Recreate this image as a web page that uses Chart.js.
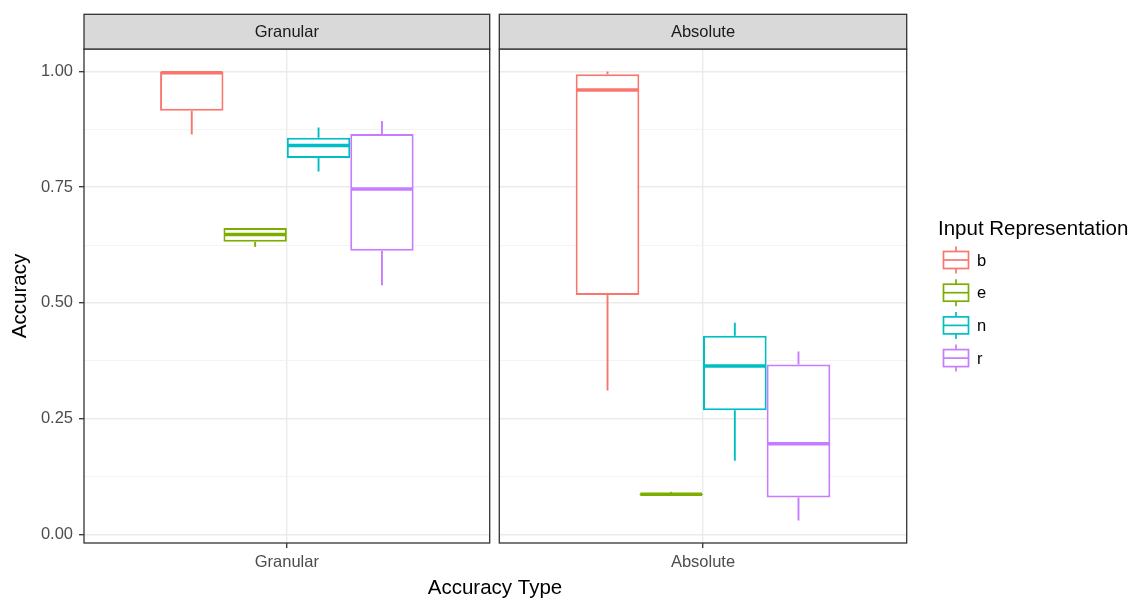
<!DOCTYPE html>
<html>
<head>
<meta charset="utf-8">
<script src="https://cdn.jsdelivr.net/npm/chart.js@4.4.0/dist/chart.umd.min.js"></script>
<style>
html, body { margin: 0; padding: 0; background: #fff; }
#wrap { position: relative; width: 1131px; height: 599px; }
#wrap canvas { position: absolute; left: 0; top: 0; }
</style>
</head>
<body>
<div id="wrap">
<canvas id="granular_chart" width="1131" height="599"></canvas>
<canvas id="absolute_chart" width="1131" height="599"></canvas>
</div>
<script>
const groups = ['b', 'e', 'n', 'r'];
const yTicks = [0, 0.125, 0.25, 0.375, 0.5, 0.625, 0.75, 0.875, 1];

// Granular panel
const granularMin = [0.864, 0.621, 0.784, 0.538];
const granularQ1 = [0.915, 0.632, 0.813, 0.613];
const granularMed = [0.997, 0.648, 0.840, 0.746];
const granularQ3 = [1.000, 0.662, 0.857, 0.865];
const granularMax = [1.000, 0.662, 0.879, 0.893];

// Absolute panel
const absoluteMin = [0.311, 0.085, 0.159, 0.030];
const absoluteQ1 = [0.517, 0.085, 0.268, 0.080];
const absoluteMed = [0.960, 0.087, 0.364, 0.196];
const absoluteQ3 = [0.994, 0.088, 0.429, 0.367];
const absoluteMax = [1.000, 0.092, 0.457, 0.395];

const colors = ['#F8766D', '#7CAE00', '#00BFC4', '#C77CFF'];
const FONT = "'Liberation Sans', Arial, sans-serif";
Chart.defaults.font.family = FONT;

const isMajor = v => Math.abs(v * 4 - Math.round(v * 4)) < 1e-6;

// whiskers + median on top of the floating bars
const boxParts = {
    id: 'boxParts',
    afterDatasetsDraw(chart, args, opts) {
        const ctx = chart.ctx;
        const y = chart.scales.y;
        chart.data.datasets.forEach((ds, i) => {
            const bar = chart.getDatasetMeta(i).data[0];
            const half = bar.width / 2;
            ctx.save();
            ctx.strokeStyle = ds.borderColor;
            ctx.lineWidth = 1.9;
            ctx.beginPath();
            ctx.moveTo(bar.x, y.getPixelForValue(opts.max[i]));
            ctx.lineTo(bar.x, y.getPixelForValue(ds.data[0][1]));
            ctx.moveTo(bar.x, y.getPixelForValue(ds.data[0][0]));
            ctx.lineTo(bar.x, y.getPixelForValue(opts.min[i]));
            ctx.stroke();
            ctx.lineWidth = 3.5;
            const m = y.getPixelForValue(opts.med[i]);
            ctx.beginPath();
            ctx.moveTo(bar.x - half + 1, m);
            ctx.lineTo(bar.x + half - 1, m);
            ctx.stroke();
            ctx.restore();
        });
    }
};

// panel border and facet strip
const panelFrame = {
    id: 'panelFrame',
    afterDraw(chart, args, opts) {
        const ctx = chart.ctx;
        const {left, right, top, bottom} = chart.chartArea;
        const stripTop = top - 34.7;
        ctx.save();
        ctx.strokeStyle = '#333333';
        ctx.lineWidth = 1.3;
        ctx.strokeRect(left, top, right - left, bottom - top);
        ctx.fillStyle = '#D9D9D9';
        ctx.fillRect(left, stripTop, right - left, top - stripTop);
        ctx.strokeRect(left, stripTop, right - left, top - stripTop);
        ctx.fillStyle = '#1A1A1A';
        ctx.font = '16.5px ' + FONT;
        ctx.textAlign = 'center';
        ctx.textBaseline = 'middle';
        ctx.fillText(opts.label, (left + right) / 2, (stripTop + top) / 2 + 1);
        ctx.restore();
    }
};

// shared x title
const xTitle = {
    id: 'xTitle',
    afterDraw(chart) {
        const ctx = chart.ctx;
        ctx.save();
        ctx.fillStyle = '#000';
        ctx.font = '20.5px ' + FONT;
        ctx.textAlign = 'center';
        ctx.textBaseline = 'middle';
        ctx.fillText('Accuracy Type', 495, 588);
        ctx.restore();
    }
};

// legend with boxplot keys
const boxLegend = {
    id: 'boxLegend',
    afterDraw(chart) {
        const ctx = chart.ctx;
        ctx.save();
        ctx.fillStyle = '#000';
        ctx.font = '20.5px ' + FONT;
        ctx.textBaseline = 'middle';
        ctx.fillText('Input Representation', 938, 229);
        groups.forEach((g, i) => {
            const cy = 260 + i * 32.7;
            const x0 = 943.5, x1 = 968.5, cx = (x0 + x1) / 2;
            ctx.strokeStyle = colors[i];
            ctx.lineWidth = 1.7;
            ctx.beginPath();
            ctx.moveTo(cx, cy - 13.5); ctx.lineTo(cx, cy - 8.5);
            ctx.moveTo(cx, cy + 8.5); ctx.lineTo(cx, cy + 13.5);
            ctx.stroke();
            ctx.strokeRect(x0, cy - 8.5, x1 - x0, 17);
            ctx.beginPath();
            ctx.moveTo(x0, cy); ctx.lineTo(x1, cy);
            ctx.stroke();
            ctx.fillStyle = '#000';
            ctx.font = '16.5px ' + FONT;
            ctx.fillText(g, 977, cy + 1);
        });
        ctx.restore();
    }
};

function makePanel(canvas, name, mins, q1s, meds, q3s, maxs, showY, padLeft, padRight, extra) {
    const datasets = groups.map((g, i) => ({
        label: g,
        data: [[q1s[i], q3s[i]]],
        backgroundColor: '#FFFFFF',
        borderColor: colors[i],
        borderWidth: 2,
        borderSkipped: false,
        categoryPercentage: 0.625,
        barPercentage: 1.0
    }));
    return new Chart(canvas, {
        type: 'bar',
        data: { labels: [name], datasets: datasets },
        options: {
            responsive: false,
            animation: false,
            layout: { padding: { left: padLeft, right: padRight, top: 49, bottom: 0 } },
            plugins: {
                legend: { display: false },
                tooltip: { enabled: false },
                boxParts: { min: mins, med: meds, max: maxs },
                panelFrame: { label: name }
            },
            scales: {
                x: {
                    offset: true,
                    border: { display: false },
                    grid: {
                        offset: false,
                        color: '#EBEBEB',
                        lineWidth: 1.4,
                        tickLength: 5,
                        tickColor: '#333333',
                        tickWidth: 1.3
                    },
                    ticks: {
                        color: '#4D4D4D',
                        font: { size: 16.5 },
                        padding: 5,
                        maxRotation: 0
                    },
                    afterFit: s => { s.height = 56; }
                },
                y: {
                    min: -0.0185,
                    max: 1.0485,
                    border: { display: false },
                    afterBuildTicks: s => { s.ticks = yTicks.map(v => ({ value: v })); },
                    afterFit: s => { s.width = showY ? 84 : 0; },
                    grid: {
                        color: ctx => isMajor(ctx.tick.value) ? '#EBEBEB' : '#F2F2F2',
                        lineWidth: ctx => isMajor(ctx.tick.value) ? 1.4 : 0.9,
                        drawTicks: showY,
                        tickLength: 5,
                        tickColor: ctx => isMajor(ctx.tick.value) ? '#333333' : 'rgba(0,0,0,0)',
                        tickWidth: 1.3
                    },
                    ticks: {
                        display: showY,
                        color: '#4D4D4D',
                        font: { size: 16.5 },
                        padding: 6,
                        callback: v => isMajor(v) ? v.toFixed(2) : ''
                    },
                    title: {
                        display: showY,
                        text: 'Accuracy',
                        color: '#000',
                        font: { size: 20.5 },
                        padding: { top: 8, bottom: 0 }
                    }
                }
            }
        },
        plugins: [boxParts, panelFrame].concat(extra)
    });
}

const granularChart = makePanel(
    document.getElementById('granular_chart'), 'Granular',
    granularMin, granularQ1, granularMed, granularQ3, granularMax,
    true, 0, 1131 - 489.7, [xTitle]
);
const absoluteChart = makePanel(
    document.getElementById('absolute_chart'), 'Absolute',
    absoluteMin, absoluteQ1, absoluteMed, absoluteQ3, absoluteMax,
    false, 499.3, 1131 - 906.7, [boxLegend]
);
</script>
</body>
</html>
